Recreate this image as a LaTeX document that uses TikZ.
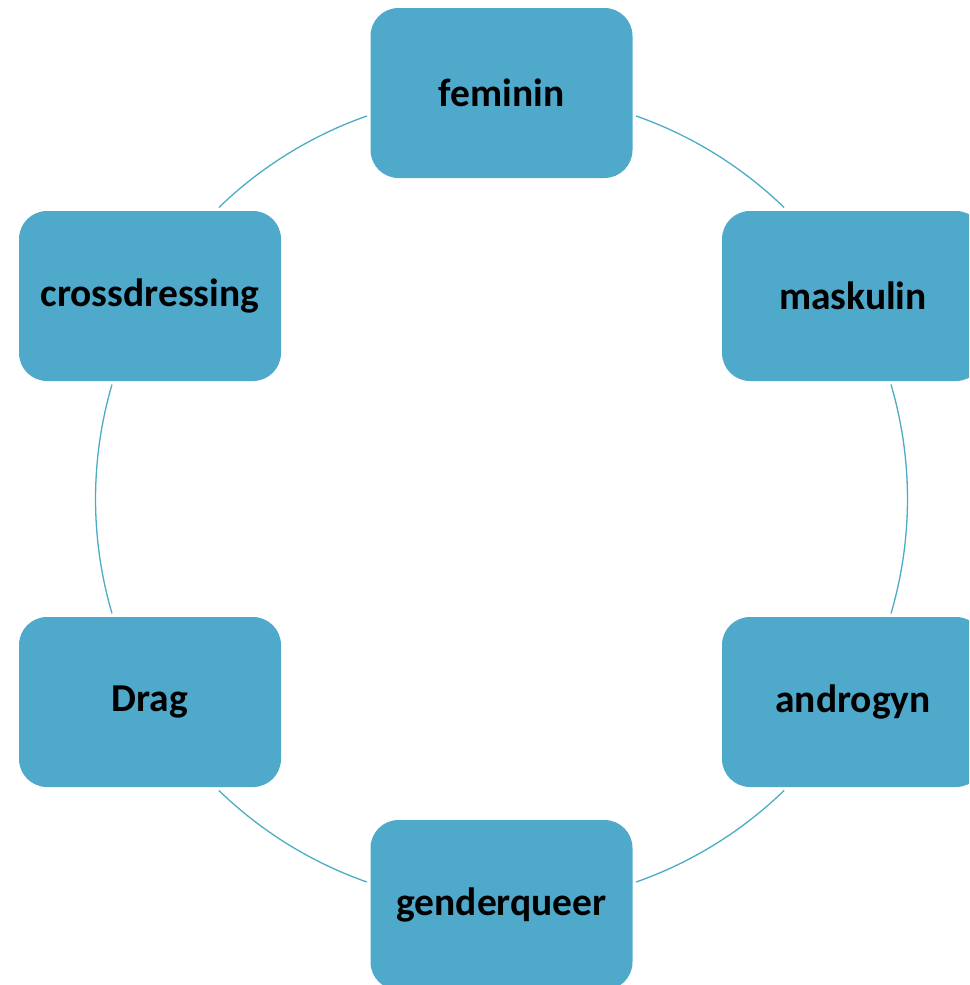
\documentclass[tikz,border=0pt]{standalone}
\usepackage{fontspec}
\setmainfont{Carlito}
\definecolor{boxblue}{RGB}{79,169,203}
\definecolor{lineblue}{RGB}{75,172,198}
\begin{document}
\begin{tikzpicture}[x=1pt,y=1pt,
  cyclebox/.style={fill=boxblue, draw=none, rounded corners=28pt,
    minimum width=262pt, minimum height=170pt, inner sep=0pt,
    font=\fontsize{39.5}{46}\selectfont\bfseries, text=black},
  cycleline/.style={draw=lineblue, line width=1.3pt}]
\clip (0,0) rectangle (969,-985);
\coordinate (c) at (501.5,-499);
% arcs of the cycle (circle r = 406)
\foreach \a/\b in {70.65/45.89, 16.38/-16.38, -45.89/-70.65,
                   -109.35/-134.11, -163.62/-196.38, 134.11/109.35}{
  \draw[cycleline] ([shift={(\a:406)}]c) arc[start angle=\a, end angle=\b, radius=406];
}
\node[cyclebox] (feminin) at (501.5,-93) {feminin};
\node[cyclebox] (maskulin) at (853,-296) {maskulin};
\node[cyclebox] (androgyn) at (853,-702) {androgyn};
\node[cyclebox] (genderqueer) at (501.5,-905) {genderqueer};
\node[cyclebox] (drag) at (150,-702) {Drag};
\node[cyclebox] (crossdressing) at (150,-296) {crossdressing};
\end{tikzpicture}
\end{document}
